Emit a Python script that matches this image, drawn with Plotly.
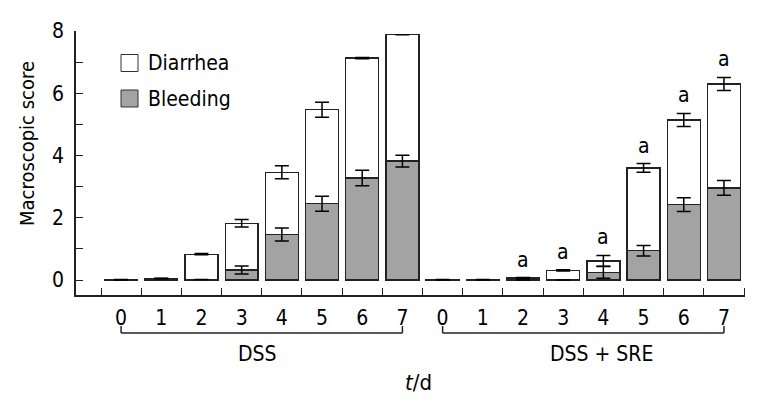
import plotly.graph_objects as go

# ---------------- data ----------------
days = ["0", "1", "2", "3", "4", "5", "6", "7"]
groups = ["DSS", "DSS + SRE"]

dss_total = [0.02, 0.05, 0.83, 1.82, 3.46, 5.47, 7.13, 7.88]
dss_total_err = [0.0, 0.01, 0.02, 0.12, 0.21, 0.24, 0.02, None]
dss_bleeding = [0.0, 0.05, 0.02, 0.32, 1.46, 2.45, 3.28, 3.82]
dss_bleeding_err = [0.0, 0.0, 0.0, 0.13, 0.21, 0.24, 0.25, 0.19]

sre_total = [0.02, 0.02, 0.06, 0.31, 0.61, 3.60, 5.14, 6.30]
sre_total_err = [0.0, 0.0, 0.02, 0.02, 0.18, 0.14, 0.21, 0.21]
sre_bleeding = [0.0, 0.0, 0.0, 0.0, 0.25, 0.94, 2.42, 2.96]
sre_bleeding_err = [0.0, 0.0, 0.0, 0.0, 0.19, 0.17, 0.22, 0.24]

sig_marks = ["", "", "a", "a", "a", "a", "a", "a"]  # DSS + SRE vs DSS

# ---------------- derived ----------------
total = dss_total + sre_total
total_err = dss_total_err + sre_total_err
bleeding = dss_bleeding + sre_bleeding
bleeding_err = dss_bleeding_err + sre_bleeding_err
diarrhea = [t - b for t, b in zip(total, bleeding)]
xpos = list(range(len(total)))
labels = days + days

FONT = "DejaVu Sans Condensed, Liberation Sans, Arial, sans-serif"
OFF = 8  # page body margin of the html page
W, H = 761 - OFF, 406 - OFF
# plot area in page pixels: x 76..745, y 31..295
ML, MT = 76 - OFF, 31 - OFF
MR, MB = W - (745 - OFF), H - (295 - OFF)
PW, PH = W - ML - MR, H - MT - MB


def px_x(px):
    return (px - OFF - ML) / PW


def px_y(py):
    return (H - MB - (py - OFF)) / PH


fig = go.Figure()
line_col = "#222222"
fig.add_trace(go.Bar(x=xpos, y=bleeding, marker=dict(color="#a3a3a3", line=dict(color=line_col, width=1.3)),
                     width=0.82, name="Bleeding", showlegend=False))
fig.add_trace(go.Bar(x=xpos, y=diarrhea, marker=dict(color="white", line=dict(color=line_col, width=1.3)),
                     width=0.82, name="Diarrhea", showlegend=False))

# error bars at the segment tops
fig.add_trace(go.Scatter(x=xpos, y=bleeding, mode="markers", marker=dict(size=1, opacity=0),
                         error_y=dict(type="data", array=bleeding_err, color="black", thickness=1.5, width=7),
                         showlegend=False, hoverinfo="skip"))
fig.add_trace(go.Scatter(x=xpos, y=total, mode="markers", marker=dict(size=1, opacity=0),
                         error_y=dict(type="data", array=total_err, color="black", thickness=1.5, width=7),
                         showlegend=False, hoverinfo="skip"))

annotations = []
shapes = []
# significance marks
for i, m in enumerate(sig_marks):
    if m:
        k = 8 + i
        annotations.append(dict(x=k, y=total[k] + (total_err[k] or 0), xref="x", yref="y", text=m,
                                showarrow=False, yshift=18, font=dict(family=FONT, size=21, color="black")))

# group brackets
y_br = px_y(333)
y_br_top = px_y(326)
for g, (a, b) in enumerate([(0, 7), (8, 15)]):
    shapes.append(dict(type="line", xref="x", yref="paper", x0=a, x1=b, y0=y_br, y1=y_br,
                       line=dict(color=line_col, width=1.5)))
    for xx in (a, b):
        shapes.append(dict(type="line", xref="x", yref="paper", x0=xx, x1=xx, y0=y_br, y1=y_br_top,
                           line=dict(color=line_col, width=1.5)))
group_centers = [3.4, 11.95]
for g, name in enumerate(groups):
    annotations.append(dict(x=group_centers[g], y=px_y(354), xref="x", yref="paper", text=name, showarrow=False,
                            yanchor="middle", font=dict(family=FONT, size=21, color="black")))

# x title
annotations.append(dict(x=px_x(418), y=px_y(382), xref="paper", yref="paper", text="<i>t</i>/d", showarrow=False,
                        yanchor="middle", font=dict(family=FONT, size=22, color="black")))
# y title
annotations.append(dict(x=px_x(27), y=px_y(144), xref="paper", yref="paper", text="Macroscopic score",
                        showarrow=False, textangle=-90, xanchor="center", yanchor="middle",
                        font=dict(family=FONT, size=20, color="black")))

# manual legend
legend_items = [("Diarrhea", "white", 63), ("Bleeding", "#a3a3a3", 98.5)]
for name, col, cy in legend_items:
    shapes.append(dict(type="rect", xref="paper", yref="paper", x0=px_x(121), x1=px_x(138),
                       y0=px_y(cy + 8.5), y1=px_y(cy - 8.5), fillcolor=col, line=dict(color="#333333", width=1)))
    annotations.append(dict(x=px_x(146), y=px_y(cy), xref="paper", yref="paper", text=name, showarrow=False,
                            xanchor="left", yanchor="middle", font=dict(family=FONT, size=21, color="black")))

fig.update_layout(
    width=W, height=H, margin=dict(l=ML, r=MR, t=MT, b=MB),
    barmode="stack",
    plot_bgcolor="white", paper_bgcolor="white",
    font=dict(family=FONT, size=20, color="black"),
    showlegend=False,
    annotations=annotations, shapes=shapes,
    xaxis=dict(range=[-1.122, 15.524], showline=True, linecolor=line_col, linewidth=1.5,
               showgrid=False, zeroline=False,
               tickmode="array", tickvals=xpos, ticktext=labels, ticks="",
               ticklabelstandoff=3,
               tickfont=dict(family=FONT, size=21, color="black"),
               minor=dict(tick0=0.5, dtick=1, ticks="inside", ticklen=7, tickwidth=1.3, tickcolor=line_col,
                          showgrid=False)),
    yaxis=dict(range=[-0.482, 8], showline=True, linecolor=line_col, linewidth=1.5,
               showgrid=False, zeroline=False,
               tickmode="array", tickvals=[0, 2, 4, 6, 8], ticks="inside", ticklen=7, tickwidth=1.3,
               tickcolor=line_col, ticklabelstandoff=6,
               tickfont=dict(family=FONT, size=21, color="black"),
               minor=dict(tickmode="array", tickvals=[1, 3, 5, 7], ticks="inside", ticklen=7, tickwidth=1.3,
                          tickcolor=line_col, showgrid=False)),
)

fig.write_html("out.html")
